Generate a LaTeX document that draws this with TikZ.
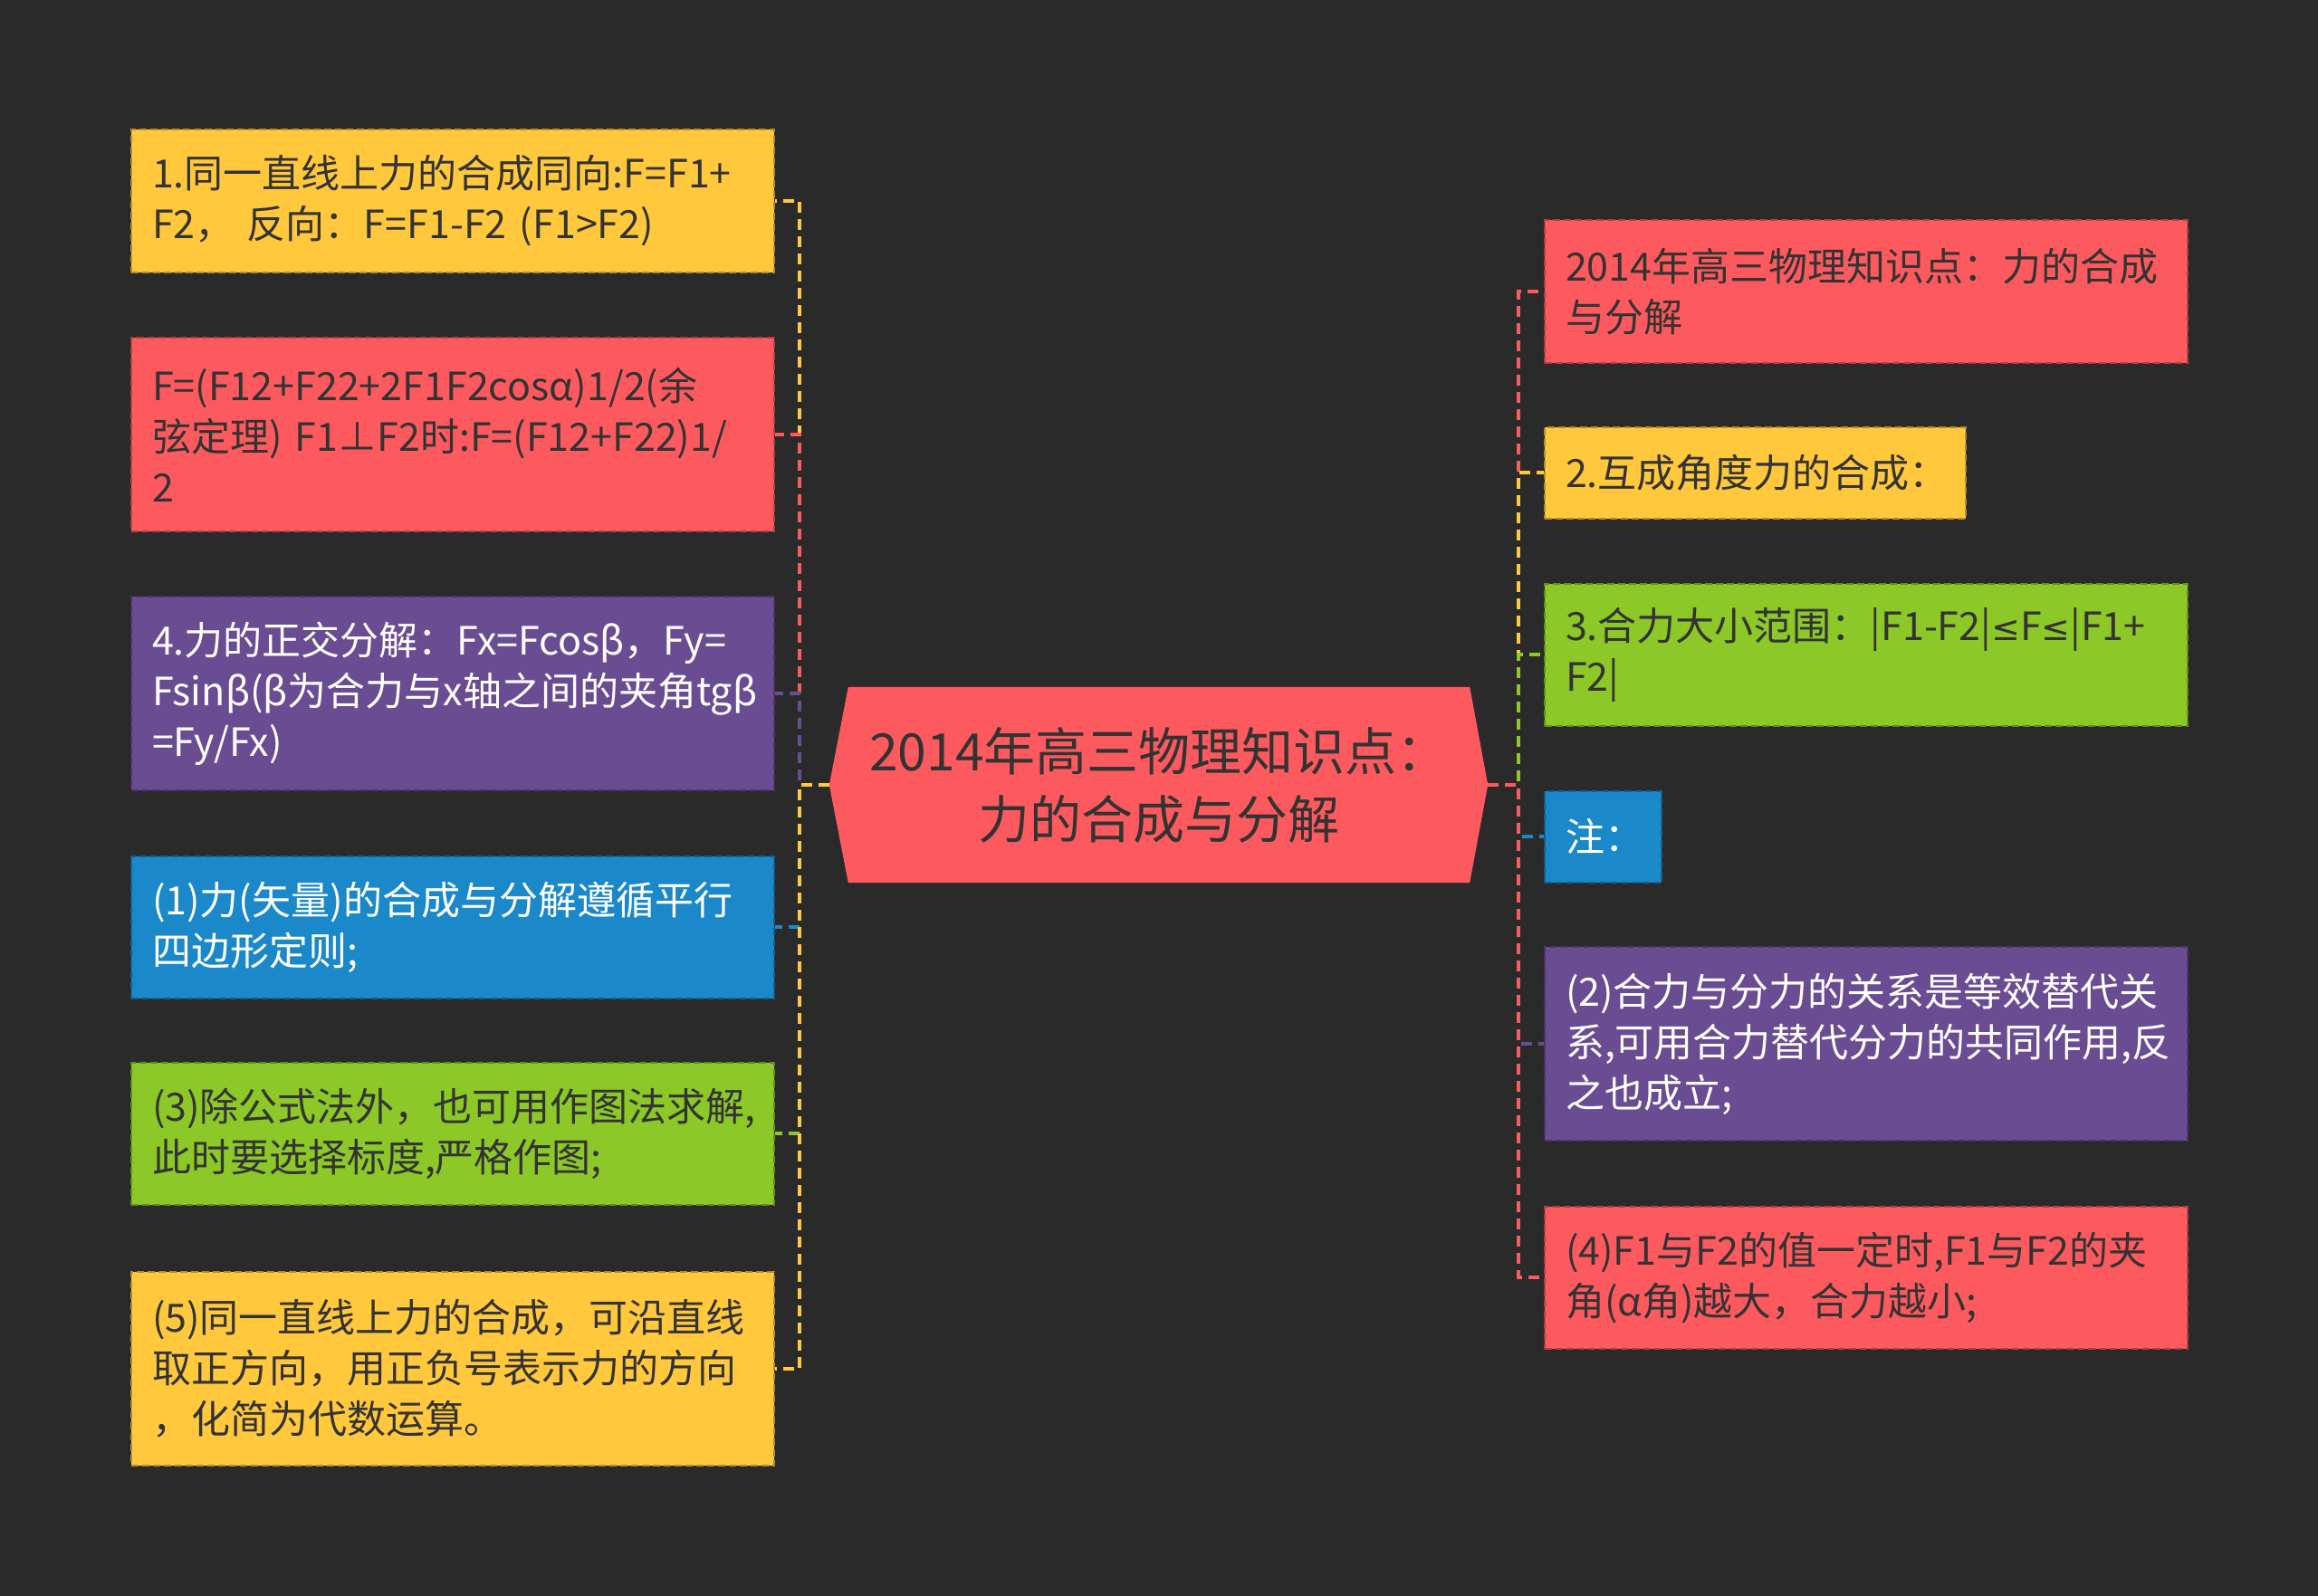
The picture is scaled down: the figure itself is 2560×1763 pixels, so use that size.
\documentclass[tikz,border=0pt]{standalone}
\usepackage{fontspec}
\setmainfont{Noto Sans CJK SC}
\newfontfamily\symfont{DejaVu Sans}
\usetikzlibrary{calc,backgrounds}
\definecolor{bg}{HTML}{2A2A2A}
\definecolor{cred}{HTML}{FC5A5E}
\definecolor{cyel}{HTML}{FFC83D}
\definecolor{cpur}{HTML}{6A4C93}
\definecolor{cblu}{HTML}{1B88C9}
\definecolor{cgrn}{HTML}{8CC828}
\definecolor{ctxt}{HTML}{333333}
\newcommand{\myle}{{\symfont\fontsize{38}{56}\selectfont ≤}}
\tikzset{
  leaf/.style={draw=#1!70!black, fill=#1, dash pattern=on 8pt off 4pt, line width=2pt,
    minimum width=710pt, text width=664pt, inner xsep=23pt, inner ysep=0pt,
    align=left, font=\fontsize{43}{56}\selectfont, text=ctxt},
  one/.style={minimum height=101pt},
  two/.style={minimum height=157pt},
  three/.style={minimum height=214pt},
  wtext/.style={text=white},
  link/.style={draw=#1, line width=3.5pt, dash pattern=on 12pt off 7pt},
}
\begin{document}
\begin{tikzpicture}[x=1pt,y=-1pt]
\useasboundingbox (0,0) rectangle (2560,1763);
% central topic
\node[minimum width=686pt, minimum height=216pt, inner sep=0pt, align=center,
  font=\fontsize{57}{75}\selectfont, text=ctxt] (c) at (1280,867)
  {2014年高三物理知识点：\\力的合成与分解};
\begin{scope}[on background layer]
  \fill[bg] (0,0) rectangle (2560,1763);
  \fill[cred] (c.north west) -- (c.north east) -- ([xshift=20pt]c.east)
    -- (c.south east) -- (c.south west) -- ([xshift=-21pt]c.west) -- cycle;
\end{scope}
\coordinate (cl) at ([xshift=-21pt]c.west);
\coordinate (cr) at ([xshift=20pt]c.east);
\coordinate (lj) at (883,867);
\coordinate (rj) at (1677,867);

% left leaves
\node[leaf=cyel, two, anchor=west] (l1) at (144,222)
  {1.同一直线上力的合成同向:F=F1+\\F2，~反向：F=F1-F2~(F1>F2)};
\node[leaf=cred, three, anchor=west] (l2) at (144,480)
  {F=(F12+F22+2F1F2cosα)1/2(余\\弦定理)~F1⊥F2时:F=(F12+F22)1/\\2};
\node[leaf=cpur, three, anchor=west, wtext] (l3) at (144,766)
  {4.力的正交分解：Fx=Fcosβ，Fy=\\Fsinβ(β为合力与x轴之间的夹角tgβ\\=Fy/Fx)};
\node[leaf=cblu, two, anchor=west, wtext] (l4) at (144,1024)
  {(1)力(矢量)的合成与分解遵循平行\\四边形定则;};
\node[leaf=cgrn, two, anchor=west] (l5) at (144,1252)
  {(3)除公式法外，也可用作图法求解,\\此时要选择标度,严格作图;};
\node[leaf=cyel, three, anchor=west] (l6) at (144,1512)
  {(5)同一直线上力的合成，可沿直线\\取正方向，用正负号表示力的方向\\，化简为代数运算。};

% right leaves
\node[leaf=cred, two, anchor=west] (r1) at (1705,322)
  {2014年高三物理知识点：力的合成\\与分解};
\node[leaf=cyel, one, anchor=west, minimum width=465pt, text width=419pt] (r2) at (1705,522)
  {2.互成角度力的合成：};
\node[leaf=cgrn, two, anchor=west] (r3) at (1705,723)
  {3.合力大小范围：|F1-F2|\myle F\myle|F1+\\F2|};
\node[leaf=cblu, one, anchor=west, wtext, minimum width=129pt, text width=83pt] (r4) at (1705,924)
  {注：};
\node[leaf=cpur, three, anchor=west, wtext] (r5) at (1705,1153)
  {(2)合力与分力的关系是等效替代关\\系,可用合力替代分力的共同作用,反\\之也成立;};
\node[leaf=cred, two, anchor=west] (r6) at (1705,1411)
  {(4)F1与F2的值一定时,F1与F2的夹\\角(α角)越大，合力越小;};

% connectors
\draw[link=cyel] (cl) -- (lj) |- (l1.east);
\draw[link=cred] (cl) -- (lj) |- (l2.east);
\draw[link=cpur] (cl) -- (lj) |- (l3.east);
\draw[link=cblu] (cl) -- (lj) |- (l4.east);
\draw[link=cgrn] (cl) -- (lj) |- (l5.east);
\draw[link=cyel] (cl) -- (lj) |- (l6.east);
\draw[link=cred] (cr) -- (rj) |- (r1.west);
\draw[link=cyel] (cr) -- (rj) |- (r2.west);
\draw[link=cgrn] (cr) -- (rj) |- (r3.west);
\draw[link=cblu] (cr) -- (rj) |- (r4.west);
\draw[link=cpur] (cr) -- (rj) |- (r5.west);
\draw[link=cred] (cr) -- (rj) |- (r6.west);
\end{tikzpicture}
\end{document}
